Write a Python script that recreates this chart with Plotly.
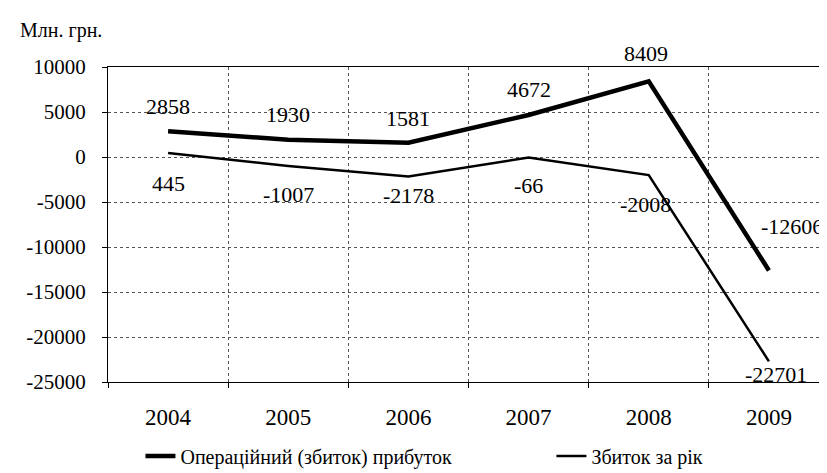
import plotly.graph_objects as go

years = ["2004", "2005", "2006", "2007", "2008", "2009"]
operating = [2858, 1930, 1581, 4672, 8409, -12606]
net_loss = [445, -1007, -2178, -66, -2008, -22701]
y_ticks = [10000, 5000, 0, -5000, -10000, -15000, -20000, -25000]
series_names = ["Операційний (збиток) прибуток", "Збиток за рік"]

FONT = "Times New Roman, Liberation Serif, DejaVu Serif, serif"

fig = go.Figure()
fig.add_trace(go.Scatter(x=years, y=operating, mode="lines", name=series_names[0],
                         line=dict(color="black", width=4.5), legend="legend"))
fig.add_trace(go.Scatter(x=years, y=net_loss, mode="lines", name=series_names[1],
                         line=dict(color="black", width=2.5), legend="legend2"))

op_shift = [(0, 25), (0, 25), (0, 24), (0, 25), (-3, 28), (23, 44)]
nl_shift = [(0, -30), (0, -28), (0, -19), (0, -28), (-3, -29), (7, -13)]
for i, (v, (dx, dy)) in enumerate(zip(operating, op_shift)):
    fig.add_annotation(x=i, y=v, xref="x", yref="y", text=str(v), showarrow=False,
                       xshift=dx, yshift=dy,
                       font=dict(family=FONT, size=22, color="black"))
for i, (v, (dx, dy)) in enumerate(zip(net_loss, nl_shift)):
    fig.add_annotation(x=i, y=v, xref="x", yref="y", text=str(v), showarrow=False,
                       xshift=dx, yshift=dy,
                       font=dict(family=FONT, size=22, color="black"))

fig.add_annotation(xref="paper", yref="paper", x=-0.125, y=1.0, yshift=37,
                   xanchor="left", yanchor="middle", showarrow=False,
                   text="Млн. грн.", font=dict(family=FONT, size=20, color="black"))

legend_common = dict(orientation="h", yanchor="middle", y=-0.235, xanchor="left",
                     font=dict(family=FONT, size=20, color="black"),
                     itemwidth=30, bgcolor="rgba(0,0,0,0)")
fig.update_layout(
    width=827, height=473,
    margin=dict(l=100, r=6, t=59, b=92),
    paper_bgcolor="white", plot_bgcolor="white",
    font=dict(family=FONT, size=21, color="black"),
    showlegend=True,
    legend=dict(x=0.045, **legend_common),
    legend2=dict(x=0.615, **legend_common),
)
fig.update_xaxes(type="category", tickson="boundaries", showgrid=True,
                 gridcolor="#555", griddash="dot", gridwidth=1,
                 showline=True, linecolor="black", linewidth=1, mirror=True,
                 ticks="outside", ticklen=5, tickcolor="black",
                 tickfont=dict(family=FONT, size=23, color="black"),
                 ticklabelstandoff=14, range=[-0.5, 5.5])
fig.update_yaxes(range=[-25000, 10000], tickvals=y_ticks,
                 ticktext=[str(t) for t in y_ticks],
                 showgrid=True, gridcolor="#555", griddash="dot", gridwidth=1,
                 zeroline=False,
                 showline=True, linecolor="black", linewidth=1, mirror=True,
                 ticks="outside", ticklen=5, tickcolor="black",
                 tickfont=dict(family=FONT, size=21, color="black"),
                 ticklabelstandoff=12)

fig.write_html("out.html")
